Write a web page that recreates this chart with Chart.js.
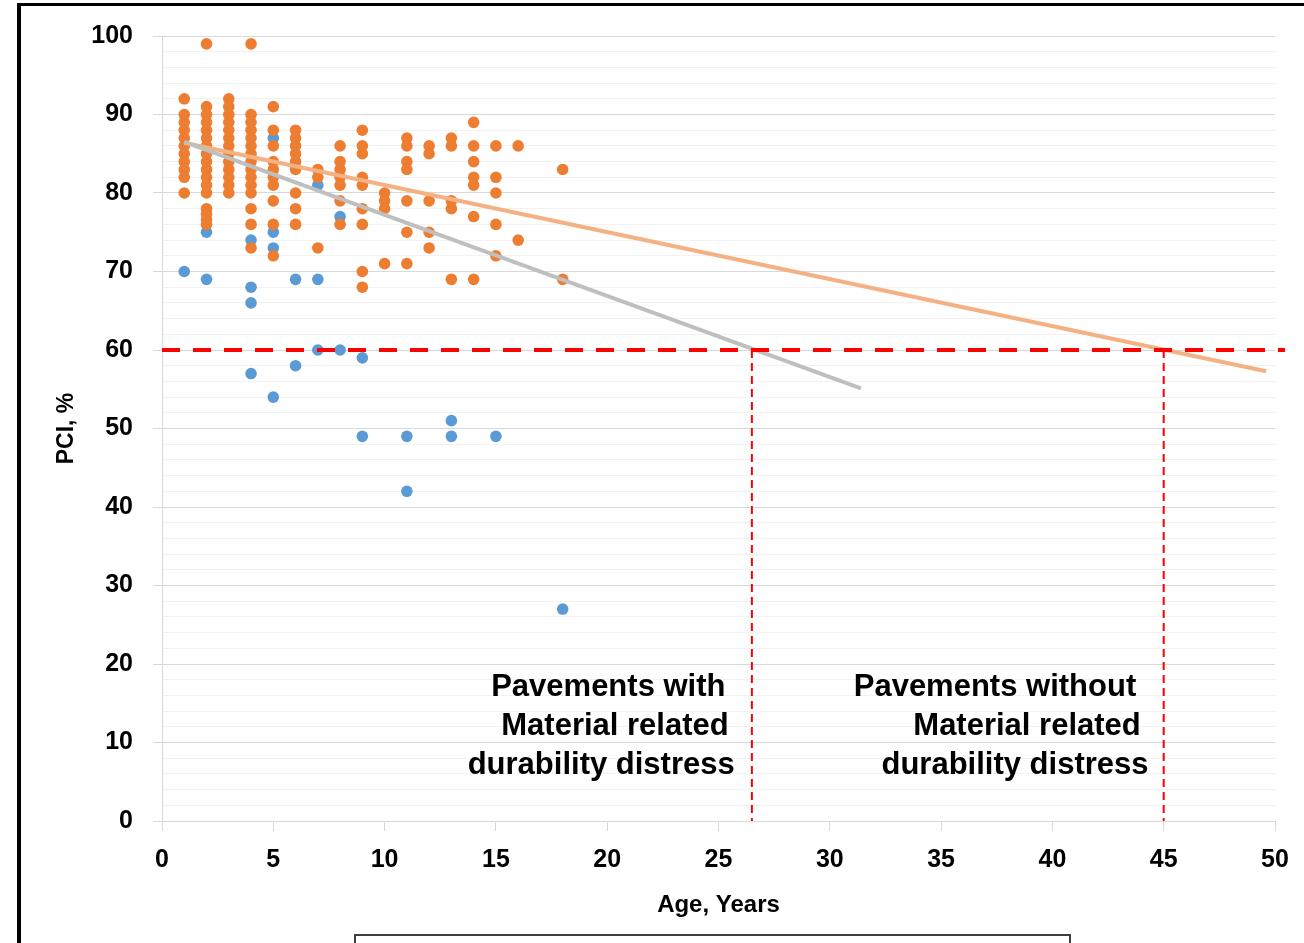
<!DOCTYPE html>
<html><head><meta charset="utf-8">
<script src="https://cdn.jsdelivr.net/npm/chart.js@4/dist/chart.umd.min.js"></script>
<style>
html,body{margin:0;padding:0;background:#fff;width:1304px;height:943px;overflow:hidden;}
#wrap{position:absolute;left:0;top:0;width:1304px;height:943px;}
canvas{position:absolute;left:0;top:0;}
.frame{position:absolute;left:17px;top:3px;width:1300px;height:960px;border-left:4px solid #000;border-top:3px solid #000;pointer-events:none;}
.box{position:absolute;left:354px;top:934px;width:713px;height:30px;border:2px solid #3a3f44;background:#fff;}
</style></head>
<body>
<div id="wrap"><canvas id="c" width="1304" height="943"></canvas><div class="frame"></div><div class="box"></div></div>
<script>
// ---- data ----
const orangeAges = [1, 2, 3, 4, 5, 6, 7, 8, 9, 10, 11, 12, 13, 14, 15, 16, 18];
const orangePCI = [
  [92, 90, 89, 88, 87, 86, 85, 84, 83, 82, 80],
  [99, 91, 90, 89, 88, 87, 86, 85, 84, 83, 82, 81, 80, 78, 77.3, 76.6, 76],
  [92, 91, 90, 89, 88, 87, 86, 85, 84, 83, 82, 81, 80],
  [99, 90, 89, 88, 87, 86, 85, 84, 83, 82, 81, 80, 78, 76, 73],
  [91, 88, 86, 84, 83, 82, 81, 79, 76, 72],
  [88, 87, 86, 85, 84, 83, 80, 78, 76],
  [83, 82, 73],
  [86, 84, 83, 82, 81, 79, 76],
  [88, 86, 85, 82, 81, 78, 76, 70, 68],
  [80, 79, 78, 71],
  [87, 86, 84, 83, 79, 75, 71],
  [86, 85, 79, 75, 73],
  [87, 86, 79, 78, 69],
  [89, 86, 84, 82, 81, 77, 69],
  [86, 82, 80, 76, 72],
  [86, 74],
  [83, 69]
];
const blueAges = [1, 2, 4, 5, 6, 7, 8, 9, 11, 13, 15, 18];
const bluePCI = [
  [70],
  [75, 69],
  [74, 68, 66, 57],
  [87, 75, 73, 54],
  [69, 58],
  [81, 69, 60],
  [77, 60],
  [59, 49],
  [49, 42],
  [51, 49],
  [49],
  [27]
];
const trendGrayAge = [1, 31.4];
const trendGrayPCI = [86.5, 55.1];
const trendOrangeAge = [1, 49.6];
const trendOrangePCI = [86.4, 57.3];
const thresholdPCI = 60;
const thresholdAge = [0, 50.45];
const lifeAges = [26.5, 45];
const noteWith = ["Pavements with", "Material related", "durability distress"];
const noteWithout = ["Pavements without", "Material related", "durability distress"];

// ---- layout (positions of the notes, in axis units) ----
const noteWithPos = [[20.05, 17.0], [20.35, 12.05], [19.73, 7.1]];
const noteWithoutPos = [[37.42, 17.0], [38.86, 12.05], [38.32, 7.1]];

function toPoints(ages, values) {
  const pts = [];
  ages.forEach((a, i) => values[i].forEach(v => pts.push({x: a, y: v})));
  return pts;
}
function pairs(xs, ys) { return xs.map((x, i) => ({x: x, y: ys[i]})); }

const FONT = '"Liberation Sans", Arial, sans-serif';

const notePlugin = {
  id: 'notes',
  afterDatasetsDraw(chart) {
    const {ctx, scales: {x, y}} = chart;
    ctx.save();
    ctx.font = 'bold 31px ' + FONT;
    ctx.fillStyle = '#000';
    ctx.textAlign = 'center';
    ctx.textBaseline = 'middle';
    noteWith.forEach((t, i) => ctx.fillText(t, x.getPixelForValue(noteWithPos[i][0]), y.getPixelForValue(noteWithPos[i][1])));
    noteWithout.forEach((t, i) => ctx.fillText(t, x.getPixelForValue(noteWithoutPos[i][0]), y.getPixelForValue(noteWithoutPos[i][1])));
    ctx.restore();
  }
};

new Chart(document.getElementById('c'), {
  type: 'scatter',
  data: {
    datasets: [
      {label: 'Without MRD', data: toPoints(orangeAges, orangePCI), backgroundColor: '#ED7D31', borderWidth: 0, pointRadius: 5.8, order: 3},
      {label: 'With MRD', data: toPoints(blueAges, bluePCI), backgroundColor: '#5B9BD5', borderWidth: 0, pointRadius: 5.8, order: 4},
      {label: 'Trend gray', data: pairs(trendGrayAge, trendGrayPCI), showLine: true, borderColor: '#BFBFBF', borderWidth: 4, pointRadius: 0, order: 2},
      {label: 'Trend orange', data: pairs(trendOrangeAge, trendOrangePCI), showLine: true, borderColor: '#F4B183', borderWidth: 4, pointRadius: 0, order: 2},
      {label: 'Threshold', data: thresholdAge.map(a => ({x: a, y: thresholdPCI})), showLine: true, borderColor: '#FF0000', borderWidth: 4, borderDash: [18, 13], pointRadius: 0, order: 1, clip: false},
      {label: 'Life with', data: [{x: lifeAges[0], y: thresholdPCI}, {x: lifeAges[0], y: 0}], showLine: true, borderColor: '#FF0000', borderWidth: 2, borderDash: [8, 5], pointRadius: 0, order: 1},
      {label: 'Life without', data: [{x: lifeAges[1], y: thresholdPCI}, {x: lifeAges[1], y: 0}], showLine: true, borderColor: '#FF0000', borderWidth: 2, borderDash: [8, 5], pointRadius: 0, order: 1}
    ]
  },
  options: {
    responsive: false,
    animation: false,
    devicePixelRatio: 1,
    layout: {padding: {top: 36, right: 29, left: 0, bottom: 0}},
    plugins: {legend: {display: false}, tooltip: {enabled: false}},
    scales: {
      x: {
        type: 'linear', min: 0, max: 50,
        afterFit: s => { s.height = 122; },
        border: {color: '#D9D9D9', width: 1},
        grid: {drawOnChartArea: false, drawTicks: true, tickLength: 10, color: '#D9D9D9'},
        ticks: {stepSize: 5, color: '#000', font: {family: FONT, size: 25, weight: 'bold'}, padding: 14},
        title: {display: true, text: 'Age, Years', color: '#000', font: {family: FONT, size: 24, weight: 'bold'}, padding: {top: 0, bottom: 23}}
      },
      y: {
        type: 'linear', min: 0, max: 100,
        afterFit: s => { s.width = 162; },
        border: {color: '#D9D9D9', width: 1},
        grid: {
          color: c => (c.tick && c.tick.value % 10 === 0) ? '#D9D9D9' : '#F2F2F2',
          tickColor: c => (c.tick && c.tick.value % 10 === 0) ? '#D9D9D9' : 'rgba(0,0,0,0)',
          tickLength: 9, lineWidth: 1
        },
        ticks: {stepSize: 2, autoSkip: false, color: '#000', font: {family: FONT, size: 25, weight: 'bold'}, padding: 20,
          callback: v => (v % 10 === 0 ? String(v) : '')},
        title: {display: true, text: 'PCI, %', color: '#000', font: {family: FONT, size: 23, weight: 'bold'}, padding: {top: 53, bottom: 0}}
      }
    }
  },
  plugins: [notePlugin]
});
</script>
</body></html>
